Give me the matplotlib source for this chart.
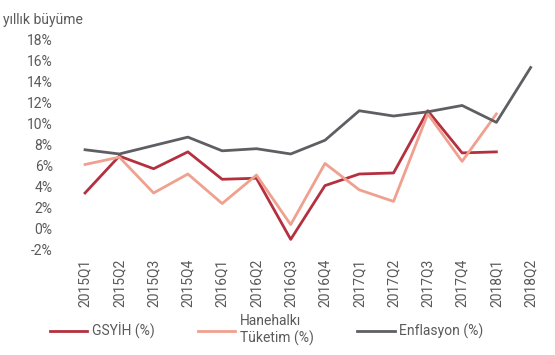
import numpy as np
import matplotlib
matplotlib.use('Agg')
import matplotlib.pyplot as plt

plt.rcParams['font.family'] = ['Roboto', 'DejaVu Sans']

# data (annual growth, %)
quarters = ['2015Q1', '2015Q2', '2015Q3', '2015Q4', '2016Q1', '2016Q2', '2016Q3',
            '2016Q4', '2017Q1', '2017Q2', '2017Q3', '2017Q4', '2018Q1', '2018Q2']
gsyih = [3.4, 6.9, 5.7, 7.3, 4.7, 4.8, -1.0, 4.1, 5.2, 5.3, 11.2, 7.2, 7.3]
hanehalki = [6.1, 6.8, 3.4, 5.2, 2.4, 5.1, 0.4, 6.2, 3.7, 2.6, 10.9, 6.4, 10.9]
enflasyon = [7.5, 7.1, 7.9, 8.7, 7.4, 7.6, 7.1, 8.4, 11.2, 10.7, 11.1, 11.7, 10.1, 15.3]
yticks = [-2, 0, 2, 4, 6, 8, 10, 12, 14, 16, 18]

txt = '#5a5a5a'

fig = plt.figure(figsize=(5.55, 3.55), dpi=100)
ax = fig.add_axes([0.11, 0.296, 0.877, 0.594])

x = np.arange(len(quarters))
ax.plot(x[:len(gsyih)], gsyih, color='#b5303f', lw=2, label='GSYİH (%)')
ax.plot(x[:len(hanehalki)], hanehalki, color='#f0a08e', lw=2, label='Hanehalkı\nTüketim (%)')
ax.plot(x, enflasyon, color='#5f5f63', lw=2, label='Enflasyon (%)')

ax.set_xlim(-0.7, 13.5)
ax.set_ylim(-2, 18)
ax.set_yticks(yticks)
ax.set_yticklabels([f'{v}%' for v in yticks])
ax.set_xticks(x)
ax.set_xticklabels(quarters, rotation=90)
ax.tick_params(length=0, labelsize=10, labelcolor=txt, pad=6)
for s in ax.spines.values():
    s.set_visible(False)

fig.text(0.005, 0.945, 'yıllık büyüme', fontsize=10, color=txt, va='center')

leg = fig.legend(loc='center left', bbox_to_anchor=(0.077, 0.07), ncol=3, frameon=False,
                 borderpad=0, handlelength=2.7, handletextpad=0.35, columnspacing=3.1,
                 fontsize=10, labelcolor=txt)
for t in leg.get_texts():
    t.set_multialignment('left')

fig.savefig('out.png', dpi=100)
